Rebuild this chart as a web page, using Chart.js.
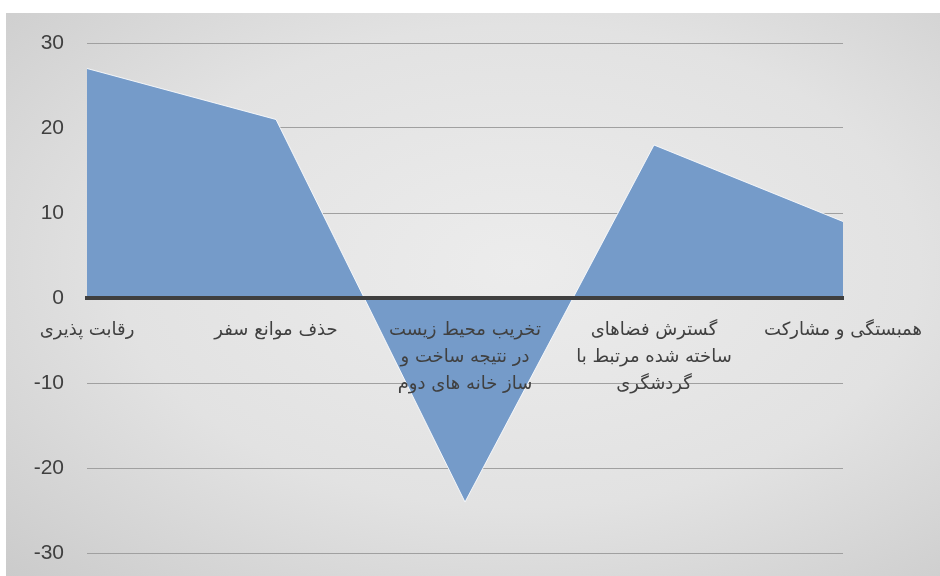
<!DOCTYPE html>
<html>
<head>
<meta charset="utf-8">
<script src="https://cdn.jsdelivr.net/npm/chart.js@4"></script>
<style>
  html, body { margin: 0; padding: 0; background: #fff; }
  #frame {
    position: absolute; left: 6px; top: 13px; width: 934px; height: 563px;
    background: radial-gradient(ellipse at 55% 45%, #ececec 0%, #e2e2e2 55%, #cbcbcb 100%);
  }
</style>
</head>
<body>
<div id="frame"><canvas id="chart" width="934" height="563"></canvas></div>
<script>
// categories (multi-line ones as arrays)
const categories = [
  'رقابت پذیری',
  'حذف موانع سفر',
  ['تخریب محیط زیست', 'در نتیجه ساخت و', 'ساز خانه های دوم'],
  ['گسترش فضاهای', 'ساخته شده مرتبط با', 'گردشگری'],
  'همبستگی و مشارکت'
];
const values = [27, 21, -24, 18, 9];
const yTicks = [-30, -20, -10, 0, 10, 20, 30];

const ctx = document.getElementById('chart').getContext('2d');
new Chart(ctx, {
  type: 'line',
  data: {
    labels: categories,
    datasets: [{
      data: values,
      fill: 'origin',
      backgroundColor: '#759bc9',
      borderColor: 'rgba(255,255,255,0.85)',
      borderWidth: 1,
      pointRadius: 0,
      tension: 0
    }]
  },
  options: {
    responsive: false,
    animation: false,
    layout: { padding: { top: 30, right: 97, bottom: 23, left: 0 } },
    plugins: { legend: { display: false }, tooltip: { enabled: false } },
    scales: {
      x: {
        position: { y: 0 },
        offset: false,
        grid: { display: false },
        border: { color: '#3f3f3f', width: 4, z: 1 },
        ticks: {
          z: 1,
          color: '#404040',
          font: { family: 'DejaVu Sans, Arial, sans-serif', size: 18, lineHeight: 1.5 },
          maxRotation: 0,
          autoSkip: false,
          padding: 11
        }
      },
      y: {
        min: -30,
        max: 30,
        afterBuildTicks: (axis) => { axis.ticks = yTicks.map(v => ({ value: v })); },
        afterFit: (axis) => { axis.width = 81; },
        grid: { color: '#a0a0a0', lineWidth: 1, drawTicks: true, tickLength: 23, tickColor: 'rgba(0,0,0,0)' },
        border: { display: false },
        ticks: {
          color: '#404040',
          font: { family: 'Liberation Sans Narrow, Arial Narrow, sans-serif', size: 21 },
          padding: 0
        }
      }
    }
  }
});
</script>
</body>
</html>
